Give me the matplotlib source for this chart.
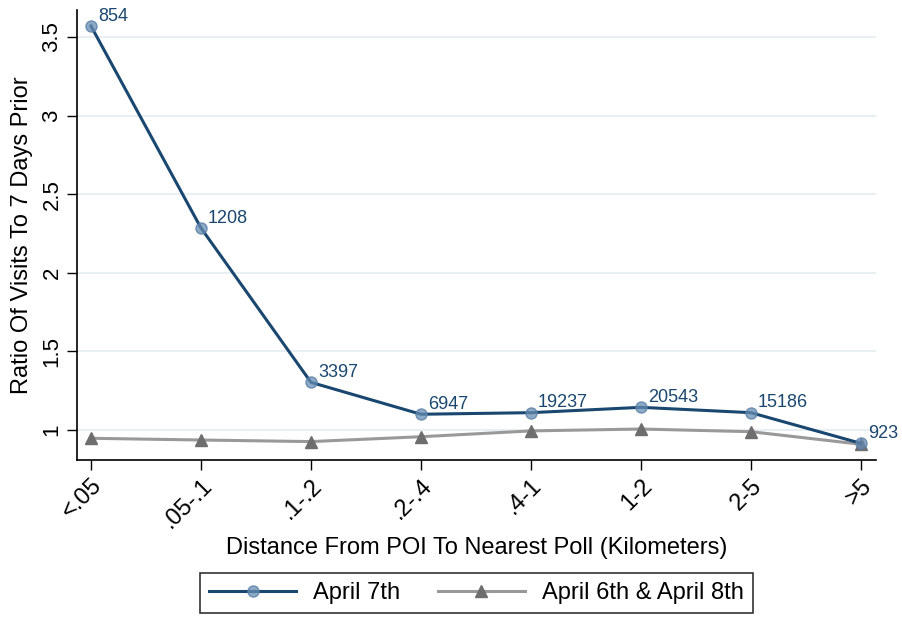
import matplotlib
matplotlib.use("Agg")
import matplotlib.pyplot as plt

plt.rcParams["font.family"] = ["Liberation Sans", "DejaVu Sans"]

categories = ["<.05", ".05-.1", ".1-.2", ".2-.4", ".4-1", "1-2", "2-5", ">5"]
april7 = [3.57, 2.285, 1.303, 1.10, 1.11, 1.144, 1.11, 0.915]
april6_8 = [0.947, 0.936, 0.926, 0.957, 0.994, 1.006, 0.989, 0.909]
counts = ["854", "1208", "3397", "6947", "19237", "20543", "15186", "923"]
yticks = [1, 1.5, 2, 2.5, 3, 3.5]
ytick_labels = ["1", "1.5", "2", "2.5", "3", "3.5"]

navy = "#1a476f"
gray = "#999999"

fig = plt.figure(figsize=(9.02, 6.18), dpi=100)
ax = fig.add_axes([0.0854, 0.2557, 0.8856, 0.7281])

x = list(range(len(categories)))
for y in yticks:
    ax.axhline(y, color="#e6eef2", lw=1.3, zorder=0)

l1, = ax.plot(x, april7, color=navy, lw=2.2, marker="o", ms=8,
              mfc=(0.40, 0.55, 0.70, 0.75), mec=(0.35, 0.50, 0.66, 0.8), mew=1,
              label="April 7th", zorder=3)
l2, = ax.plot(x, april6_8, color=gray, lw=2.2, marker="^", ms=8,
              mfc="#6e6e6e", mec="#6e6e6e", label="April 6th & April 8th", zorder=2)

for xi, yi, c in zip(x, april7, counts):
    ax.annotate(c, (xi, yi), xytext=(5, 1), textcoords="offset points",
                color=navy, fontsize=13, ha="left", va="bottom")

ax.set_xlim(-0.127, 7.136)
ax.set_ylim(0.809, 3.672)
ax.set_xticks(x)
ax.set_xticklabels(categories, rotation=45, ha="right", rotation_mode="anchor", fontsize=17)
ax.set_yticks(yticks)
ax.set_yticklabels(ytick_labels, rotation=90, va="center", fontsize=16)
ax.tick_params(length=7, width=1, color="black")
for s in ["top", "right"]:
    ax.spines[s].set_visible(False)
for s in ["left", "bottom"]:
    ax.spines[s].set_linewidth(1.2)

ax.set_xlabel("Distance From POI To Nearest Poll (Kilometers)", fontsize=17, labelpad=3)
ax.set_ylabel("Ratio Of Visits To 7 Days Prior", fontsize=17, labelpad=6)

leg = fig.legend(handles=[l1, l2], loc="center", bbox_to_anchor=(0.528, 0.0405),
                 ncol=2, fontsize=17, frameon=True, fancybox=False,
                 edgecolor="black", handlelength=3.7, handletextpad=0.7,
                 columnspacing=1.6, borderpad=0.4)
leg.get_frame().set_linewidth(1.2)

fig.savefig("out.png", dpi=100)
